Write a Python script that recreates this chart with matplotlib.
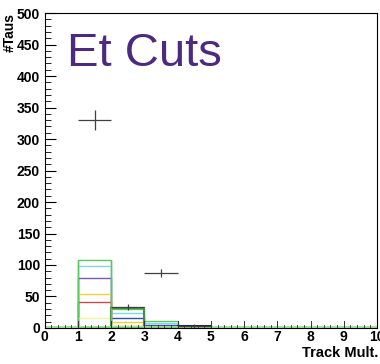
import numpy as np
import matplotlib.pyplot as plt

# bin edges and stacked-looking histogram levels (one list per sample)
edges = [1, 2, 3, 4, 5]
h_green = [108, 30, 11, 0]
h_cyan = [98, 24, 8, 0]
h_purple = [80, 0, 0, 0]
h_blue = [0, 16, 5, 3]
h_yellow = [54, 10, 2, 0]
h_red = [41, 0, 0, 0]
h_ltyellow = [16, 5, 1, 0]

data_x = [1.5, 2.5, 3.5, 4.5]
data_y = [330, 33, 87, 3]
data_err = [16, 5, 6, 3]

plt.rcParams['font.family'] = ['Liberation Sans', 'DejaVu Sans']
fig = plt.figure(figsize=(3.8, 3.64), dpi=100)
ax = fig.add_axes([0.118, 0.099, 0.874, 0.865])

hists = [(h_green, '#5cc85c'), (h_cyan, '#7fd8e0'), (h_purple, '#7a5aa8'),
         (h_blue, '#3050b0'), (h_yellow, '#f0d040'), (h_red, '#c05050'),
         (h_ltyellow, '#f4f0a0')]
for vals, col in hists:
    ax.stairs(vals, edges, color=col, lw=1.0)
ax.plot([0, 10], [0.8, 0.8], color='#8fdc8f', lw=1.2)
ax.vlines([1, 2], 0, [108, 108], color='#5cc85c', lw=1.0)
ax.stairs([0, 0, 0, 3], edges, color='#202060', lw=1.5)
ax.stairs([0, 31, 0, 0], edges, color='#4a8a4a', lw=1.5)

ax.errorbar(data_x, data_y, xerr=0.5, yerr=data_err, fmt='none',
            ecolor='#404040', elinewidth=0.9, capsize=0)

ax.set_xlim(0, 10)
ax.set_ylim(0, 500)
ax.set_xticks(range(0, 11))
ax.set_xticks(np.arange(0, 10.01, 0.2), minor=True)
ax.set_yticks(range(0, 501, 50))
ax.set_yticks(range(0, 501, 10), minor=True)
ax.set_xticklabels([str(i) for i in range(11)])
ax.tick_params(which='both', direction='in', top=False, right=False,
               labelsize=10)
ax.tick_params(which='major', length=8, width=0.8)
ax.tick_params(which='minor', length=4, width=0.6)
ax.tick_params(axis='x', which='both', length=0)
for lab in ax.get_xticklabels() + ax.get_yticklabels():
    lab.set_fontweight('bold')
for i in range(0, 11):
    ax.plot([i, i], [0, 11], color='#333333', lw=0.7)
for v in np.arange(0.2, 10, 0.2):
    ax.plot([v, v], [0, 5.5], color='#333333', lw=0.6)
ax.tick_params(axis='x', pad=1.5)

ax.text(0.068, 0.94, 'Et Cuts', transform=ax.transAxes, color='#4b2a7f',
        fontsize=34, va='top', ha='left')
ax.text(-0.105, 1.0, '#Taus', transform=ax.transAxes, rotation=90,
        fontsize=10, fontweight='bold', ha='center', va='top')
ax.text(1.003, -0.093, 'Track Mult.', transform=ax.transAxes,
        fontsize=10.5, fontweight='bold', ha='right', va='baseline')

fig.savefig('out.png', dpi=100)
